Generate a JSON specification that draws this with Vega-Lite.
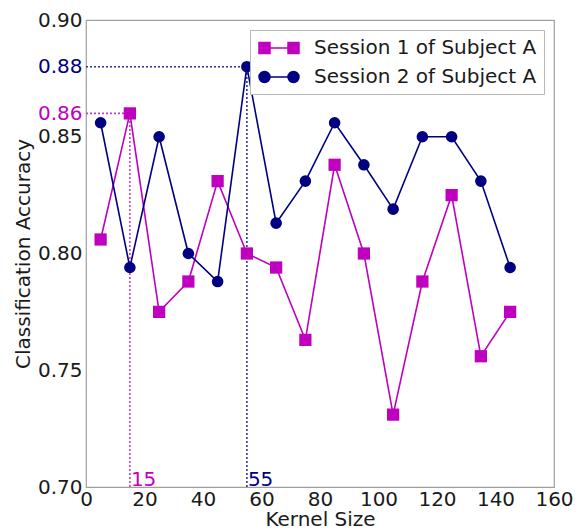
{
  "$schema": "https://vega.github.io/schema/vega-lite/v6.json",
  "autosize": "none",
  "width": 468,
  "height": 467,
  "padding": {"left": 86, "top": 20, "right": 22, "bottom": 43},
  "background": "white",
  "config": {
    "font": "DejaVu Sans",
    "view": {"stroke": "#a0a0a0", "strokeWidth": 1.2},
    "axis": {"domain": false, "grid": false, "ticks": false, "labelFont": "DejaVu Sans", "titleFont": "DejaVu Sans", "labelFontSize": 20, "titleFontSize": 20, "labelColor": "#1a1a1a", "titleColor": "#1a1a1a", "titleFontWeight": "normal"}
  },
  "datasets": {
    "series": [
      {"session": "Session 1 of Subject A", "k": 5, "acc": 0.806},
      {"session": "Session 1 of Subject A", "k": 15, "acc": 0.86},
      {"session": "Session 1 of Subject A", "k": 25, "acc": 0.775},
      {"session": "Session 1 of Subject A", "k": 35, "acc": 0.788},
      {"session": "Session 1 of Subject A", "k": 45, "acc": 0.831},
      {"session": "Session 1 of Subject A", "k": 55, "acc": 0.8},
      {"session": "Session 1 of Subject A", "k": 65, "acc": 0.794},
      {"session": "Session 1 of Subject A", "k": 75, "acc": 0.763},
      {"session": "Session 1 of Subject A", "k": 85, "acc": 0.838},
      {"session": "Session 1 of Subject A", "k": 95, "acc": 0.8},
      {"session": "Session 1 of Subject A", "k": 105, "acc": 0.731},
      {"session": "Session 1 of Subject A", "k": 115, "acc": 0.788},
      {"session": "Session 1 of Subject A", "k": 125, "acc": 0.825},
      {"session": "Session 1 of Subject A", "k": 135, "acc": 0.756},
      {"session": "Session 1 of Subject A", "k": 145, "acc": 0.775},
      {"session": "Session 2 of Subject A", "k": 5, "acc": 0.856},
      {"session": "Session 2 of Subject A", "k": 15, "acc": 0.794},
      {"session": "Session 2 of Subject A", "k": 25, "acc": 0.85},
      {"session": "Session 2 of Subject A", "k": 35, "acc": 0.8},
      {"session": "Session 2 of Subject A", "k": 45, "acc": 0.788},
      {"session": "Session 2 of Subject A", "k": 55, "acc": 0.88},
      {"session": "Session 2 of Subject A", "k": 65, "acc": 0.813},
      {"session": "Session 2 of Subject A", "k": 75, "acc": 0.831},
      {"session": "Session 2 of Subject A", "k": 85, "acc": 0.856},
      {"session": "Session 2 of Subject A", "k": 95, "acc": 0.838},
      {"session": "Session 2 of Subject A", "k": 105, "acc": 0.819},
      {"session": "Session 2 of Subject A", "k": 115, "acc": 0.85},
      {"session": "Session 2 of Subject A", "k": 125, "acc": 0.85},
      {"session": "Session 2 of Subject A", "k": 135, "acc": 0.831},
      {"session": "Session 2 of Subject A", "k": 145, "acc": 0.794}
    ]
  },
  "data": {"name": "series"},
  "layer": [
    {
      "transform": [
        {"joinaggregate": [{"op": "max", "field": "acc", "as": "best"}], "groupby": ["session"]},
        {"filter": "datum.acc == datum.best && datum.session == 'Session 1 of Subject A'"}
      ],
      "layer": [
        {"mark": {"type": "rule", "color": "#c040c0", "strokeWidth": 1.6, "strokeDash": [2, 2]},
         "encoding": {"x": {"field": "k", "type": "quantitative"}, "y": {"datum": 0.7}, "y2": {"field": "acc"}}},
        {"mark": {"type": "rule", "color": "#c040c0", "strokeWidth": 1.6, "strokeDash": [2, 2]},
         "encoding": {"x": {"datum": 0}, "x2": {"field": "k"}, "y": {"field": "acc", "type": "quantitative"}}},
        {"mark": {"type": "text", "color": "#bf00bf", "align": "left", "baseline": "alphabetic", "dx": 1, "dy": -1, "fontSize": 20, "font": "DejaVu Sans"},
         "encoding": {"x": {"field": "k", "type": "quantitative"}, "y": {"datum": 0.7}, "text": {"field": "k"}}}
      ]
    },
    {
      "transform": [
        {"joinaggregate": [{"op": "max", "field": "acc", "as": "best"}], "groupby": ["session"]},
        {"filter": "datum.acc == datum.best && datum.session == 'Session 2 of Subject A'"}
      ],
      "layer": [
        {"mark": {"type": "rule", "color": "#3030a0", "strokeWidth": 1.6, "strokeDash": [2, 2]},
         "encoding": {"x": {"field": "k", "type": "quantitative"}, "y": {"datum": 0.7}, "y2": {"field": "acc"}}},
        {"mark": {"type": "rule", "color": "#3030a0", "strokeWidth": 1.6, "strokeDash": [2, 2]},
         "encoding": {"x": {"datum": 0}, "x2": {"field": "k"}, "y": {"field": "acc", "type": "quantitative"}}},
        {"mark": {"type": "text", "color": "#000080", "align": "left", "baseline": "alphabetic", "dx": 1, "dy": -1, "fontSize": 20, "font": "DejaVu Sans"},
         "encoding": {"x": {"field": "k", "type": "quantitative"}, "y": {"datum": 0.7}, "text": {"field": "k"}}}
      ]
    },
    {
      "mark": {"type": "line", "strokeWidth": 1.6},
      "encoding": {
        "x": {"field": "k", "type": "quantitative"},
        "y": {"field": "acc", "type": "quantitative"},
        "color": {"field": "session", "type": "nominal"}
      }
    },
    {
      "mark": {"type": "point", "filled": true, "opacity": 1},
      "encoding": {
        "x": {"field": "k", "type": "quantitative"},
        "y": {"field": "acc", "type": "quantitative"},
        "shape": {"field": "session", "type": "nominal", "scale": {"range": ["square", "circle"]}, "legend": null},
        "size": {"field": "session", "type": "nominal", "scale": {"range": [150, 135]}, "legend": null},
        "color": {
          "field": "session", "type": "nominal",
          "scale": {"domain": ["Session 1 of Subject A", "Session 2 of Subject A"], "range": ["#bf00bf", "#000080"]},
          "legend": {
            "title": null, "orient": "top-right", "offset": 10, "padding": 7,
            "fillColor": "white", "strokeColor": "#b8b8b8", "cornerRadius": 0,
            "labelFontSize": 20, "labelFont": "DejaVu Sans", "labelColor": "#1a1a1a", "labelLimit": 400,
            "symbolSize": 400, "symbolOffset": 11, "labelOffset": 24, "rowPadding": 8,
            "symbolType": {"expr": "datum.value == 'Session 1 of Subject A' ? 'M-1.45,0H1.45M-2,-0.55H-0.9V0.55H-2ZM0.9,-0.55H2V0.55H0.9Z' : 'M-1.45,0H1.45M-2,0A0.55,0.55 0 1,0 -0.9,0A0.55,0.55 0 1,0 -2,0ZM0.9,0A0.55,0.55 0 1,0 2,0A0.55,0.55 0 1,0 0.9,0Z'"},
            "encode": {
              "symbols": {
                "update": {
                  "fill": {"signal": "datum.value == 'Session 1 of Subject A' ? '#bf00bf' : '#000080'"},
                  "stroke": {"signal": "datum.value == 'Session 1 of Subject A' ? '#bf00bf' : '#000080'"},
                  "strokeWidth": {"value": 1.5},
                  "opacity": {"value": 1}
                }
              }
            }
          }
        }
      }
    }
  ],
  "encoding": {
    "x": {"field": "k", "type": "quantitative", "title": "Kernel Size",
      "scale": {"domain": [0, 160], "nice": false, "zero": false},
      "axis": {"values": [0, 20, 40, 60, 80, 100, 120, 140, 160], "labelPadding": 2, "titlePadding": 0, "labelFlush": false}},
    "y": {"field": "acc", "type": "quantitative", "title": "Classification Accuracy",
      "scale": {"domain": [0.7, 0.9], "nice": false, "zero": false},
      "axis": {"values": [0.7, 0.75, 0.8, 0.85, 0.86, 0.88, 0.9], "format": ".2f", "labelPadding": 4, "titlePadding": 4, "labelOverlap": false, "labelFlush": false,
        "labelColor": {"expr": "datum.value == 0.86 ? '#bf00bf' : datum.value == 0.88 ? '#000080' : '#1a1a1a'"}}}
  }
}
